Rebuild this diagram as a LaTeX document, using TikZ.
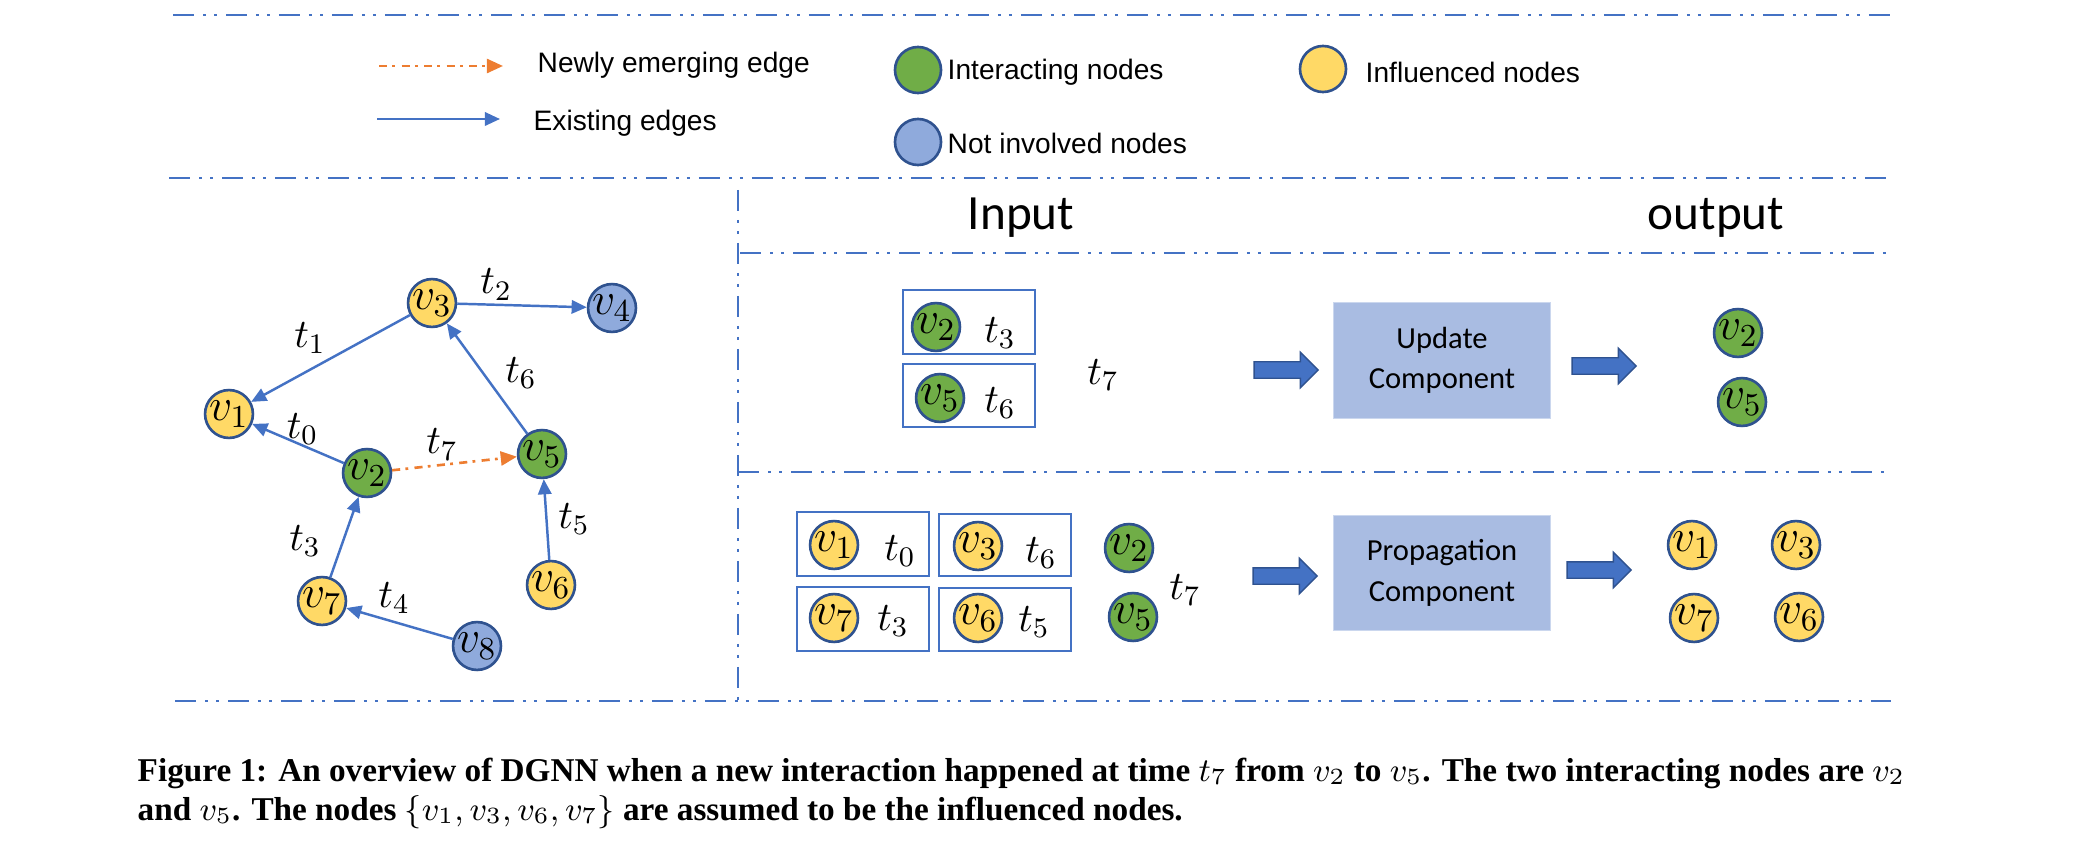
\documentclass[tikz,border=0pt]{standalone}
\usepackage{fix-cm}
\usepackage{amsmath, amssymb}
\usepackage{fontspec}
\usepackage{tikz}
\usepackage{xcolor}
\usetikzlibrary{arrows, arrows.meta, shapes, positioning, fit, calc}
\setmainfont{Liberation Sans}
\newfontfamily\calibri{Carlito}
\newfontfamily\capfont{Liberation Serif}

\definecolor{edgeblue}{HTML}{4472C4}
\definecolor{edgeorange}{HTML}{ED7D31}
\definecolor{nodeborder}{HTML}{2F528F}
\definecolor{interact}{HTML}{70AD47}
\definecolor{influ}{HTML}{FFD966}
\definecolor{notinv}{HTML}{8FAADC}
\definecolor{compfill}{HTML}{A9BCE2}

\tikzset{
  vnode/.style={circle, draw=nodeborder, line width=0.75pt, minimum size=0.46cm, inner sep=0pt, font=\fontsize{13}{15}\selectfont},
  tlab/.style={inner sep=1pt, font=\fontsize{11.5}{13}\selectfont},
  existedge/.style={draw=edgeblue, line width=0.7pt, -{Triangle[length=4.3pt, width=3.8pt]}},
  newedge/.style={draw=edgeorange, line width=0.75pt, dash pattern=on 2.3pt off 1.5pt on 0.8pt off 1.8pt, -{Triangle[length=4.6pt, width=4pt]}},
  divline/.style={draw=edgeblue, line width=0.6pt, dash pattern=on 5.97pt off 2.56pt on 0.85pt off 2.28pt on 0.85pt off 2.56pt},
  legtext/.style={anchor=west, inner sep=0pt, font=\fontsize{8}{9.6}\selectfont},
  headlab/.style={inner sep=0pt, font=\calibri\fontsize{14}{16}\selectfont},
  pairbox/.style={rectangle, draw=edgeblue, line width=0.6pt, minimum width=1.31cm, minimum height=0.64cm, inner sep=0pt},
  comp/.style={rectangle, fill=compfill, draw=compfill!60!white, line width=0.3pt, minimum width=2.16cm, minimum height=1.16cm, align=center, font=\calibri\fontsize{8.7}{11.5}\selectfont},
  fatarrow/.style={single arrow, fill=edgeblue, draw=nodeborder, line width=0.4pt, minimum height=0.64cm, inner xsep=0pt, inner ysep=0.075cm, single arrow head extend=0.095cm},
  captext/.style={anchor=base west, inner sep=0pt, font=\capfont\bfseries\fontsize{9.45}{11.5}\selectfont}
}

\begin{document}
\begin{tikzpicture}[x=0.01cm, y=-0.01cm]
    \useasboundingbox (0,0) rectangle (2086,846);

    % Dash-dot frame lines
    \draw[divline] (173,15) -- (1890,15);
    \draw[divline] (169,178) -- (1886,178);
    \draw[divline] (738,190) -- (738,706);
    \draw[divline] (740,253) -- (1890,253);
    \draw[divline] (738,472) -- (1886,472);
    \draw[divline] (175,701) -- (1891,701);

    % Legend
    \coordinate (newA) at (379,66);
    \coordinate (newB) at (503,66);
    \draw[newedge] (newA) -- (newB);
    \node[legtext] (newlab) at (537,65) {Newly emerging edge};
    \coordinate (oldA) at (377,119);
    \coordinate (oldB) at (500,119);
    \draw[existedge] (oldA) -- (oldB);
    \node[legtext] (oldlab) at (533,123) {Existing edges};
    \node[vnode, fill=interact] (leggreen) at (918,70) {};
    \node[legtext] (leginter) at (947,72) {Interacting nodes};
    \node[vnode, fill=notinv] (legblue) at (918,142) {};
    \node[legtext] (legnot) at (947,143) {Not involved nodes};
    \node[vnode, fill=influ] (legyellow) at (1323,69) {};
    \node[legtext] (leginfl) at (1365,72) {Influenced nodes};

    % Dynamic graph
    \node[vnode, fill=influ] (v1) at (229,414) {$v_1$};
    \node[vnode, fill=interact] (v2) at (367,473) {$v_2$};
    \node[vnode, fill=influ] (v3) at (432,303) {$v_3$};
    \node[vnode, fill=notinv] (v4) at (612,308) {$v_4$};
    \node[vnode, fill=interact] (v5) at (542,454) {$v_5$};
    \node[vnode, fill=influ] (v6) at (551,585) {$v_6$};
    \node[vnode, fill=influ] (v7) at (322,601) {$v_7$};
    \node[vnode, fill=notinv] (v8) at (477,646) {$v_8$};

    \draw[existedge] (v3) -- node[tlab, above left] {$t_1$} (v1);
    \draw[existedge] (v3) -- node[tlab, pos=0.3, above] {$t_2$} (v4);
    \draw[existedge] (v2) -- node[tlab, pos=0.45, above=-1pt] {$t_0$} (v1);
    \draw[newedge] (v2) -- node[tlab, pos=0.4, above] {$t_7$} (v5);
    \draw[existedge] (v5) -- node[tlab, pos=0.55, right=5pt] {$t_6$} (v3);
    \draw[existedge] (v6) -- node[tlab, midway, right=2pt] {$t_5$} (v5);
    \draw[existedge] (v7) -- node[tlab, pos=0.45, left=5pt] {$t_3$} (v2);
    \draw[existedge] (v8) -- node[tlab, pos=0.55, above=1pt] {$t_4$} (v7);

    % Panel titles
    \node[headlab, anchor=base] (inlab) at (1021,230) {Input};
    \node[headlab, anchor=base] (outlab) at (1716,230) {output};

    % Update component
    \node[pairbox, minimum width=1.32cm] (ubox1) at (969,322) {};
    \node[vnode, fill=interact] (uv2) at (936,327) {$v_2$};
    \node[tlab] (ut3) at (1000,333) {$t_3$};
    \node[pairbox, minimum width=1.32cm, minimum height=0.63cm] (ubox2) at (969,395.5) {};
    \node[vnode, fill=interact] (uv5) at (940,398) {$v_5$};
    \node[tlab] (ut6) at (1000,403) {$t_6$};
    \node[tlab] (ut7) at (1103,375) {$t_7$};
    \node[fatarrow] (uarrin) at (1282,370) {};
    \node[comp] (update) at (1442,360.5) {Update\\Component};
    \node[fatarrow] (uarrout) at (1600,366) {};
    \node[vnode, fill=interact] (uo2) at (1738,333) {$v_2$};
    \node[vnode, fill=interact] (uo5) at (1742,402) {$v_5$};

    % Propagation component
    \node[pairbox, minimum width=1.32cm] (pboxA) at (863,544) {};
    \node[vnode, fill=influ] (pv1) at (834,545) {$v_1$};
    \node[tlab] (pt0) at (900,551) {$t_0$};
    \node[pairbox, minimum width=1.32cm, minimum height=0.62cm] (pboxB) at (1005,545) {};
    \node[vnode, fill=influ] (pv3) at (978,546) {$v_3$};
    \node[tlab] (pt6) at (1041,553) {$t_6$};
    \node[pairbox, minimum width=1.32cm] (pboxC) at (863,619) {};
    \node[vnode, fill=influ] (pv7) at (834,618) {$v_7$};
    \node[tlab] (pt3) at (893,621) {$t_3$};
    \node[pairbox, minimum width=1.32cm, minimum height=0.63cm] (pboxD) at (1005,619.5) {};
    \node[vnode, fill=influ] (pv6) at (978,618) {$v_6$};
    \node[tlab] (pt5) at (1034,622) {$t_5$};
    \node[vnode, fill=interact] (pv2) at (1129,548) {$v_2$};
    \node[vnode, fill=interact] (pv5) at (1133,617) {$v_5$};
    \node[tlab] (pt7) at (1185,590) {$t_7$};
    \node[fatarrow] (parrin) at (1281,576) {};
    \node[comp, minimum height=1.14cm] (propag) at (1442,573) {Propagation\\Component};
    \node[fatarrow] (parrout) at (1595,570) {};
    \node[vnode, fill=influ] (po1) at (1692,545) {$v_1$};
    \node[vnode, fill=influ] (po3) at (1796,545) {$v_3$};
    \node[vnode, fill=influ] (po7) at (1694,618) {$v_7$};
    \node[vnode, fill=influ] (po6) at (1799,617) {$v_6$};

    % Caption
    \node[captext] (cap1) at (137,781) {Figure 1: An overview of DGNN when a new interaction happened at time $t_7$ from $v_2$ to $v_5$. The two interacting nodes are $v_2$};
    \node[captext] (cap2) at (137,820) {and $v_5$. The nodes $\{v_1, v_3, v_6, v_7\}$ are assumed to be the influenced nodes.};
\end{tikzpicture}
\end{document}
